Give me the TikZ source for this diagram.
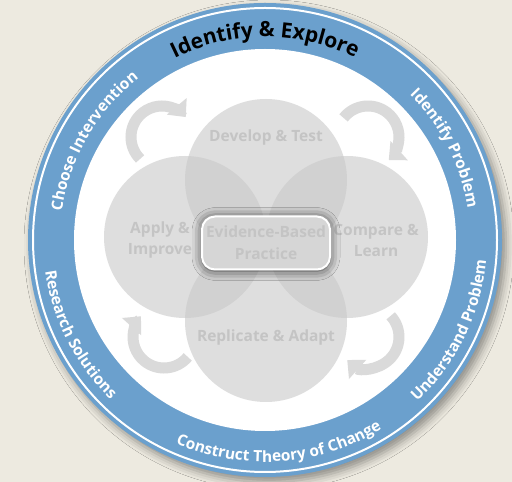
\documentclass[tikz,border=0pt]{standalone}
\usepackage{fontspec}
\setmainfont{Open Sans}
\usepackage{tikz}
\usetikzlibrary{positioning, arrows.meta, calc, decorations.text, shadows.blur}

\definecolor{bgbeige}{HTML}{EDEAE0}
\definecolor{ringblue}{HTML}{6BA0CD}
\definecolor{petalfill}{HTML}{C9C9C9}
\definecolor{petalgray}{HTML}{C4C4C4}
\definecolor{arrowgray}{HTML}{DADADA}
\definecolor{coregray}{HTML}{D6D6D6}

\newcommand{\headfont}{\bfseries\fontsize{21pt}{23pt}\selectfont}
\newcommand{\labelfont}{\bfseries\fontsize{15.5pt}{17pt}\selectfont}

\begin{document}
\begin{tikzpicture}[x=1pt, y=1pt,
	ring/.style={circle, inner sep=0pt, minimum size=474pt, fill=ringblue,
		blur shadow={shadow xshift=4pt, shadow yshift=-5pt, shadow blur radius=8pt, shadow opacity=40}},
	hole/.style={circle, inner sep=0pt, minimum size=382pt, fill=white},
	petal/.style={circle, inner sep=0pt, minimum size=162pt, fill=petalfill, fill opacity=0.6},
	petaltext/.style={text=petalgray, font=\bfseries\fontsize{15.5pt}{21pt}\selectfont, align=center},
	core/.style={rectangle, rounded corners=13pt, minimum width=128pt, minimum height=53pt,
		fill=coregray, draw=white, line width=2pt, text=petalgray, align=center,
		font=\bfseries\fontsize{15.5pt}{22pt}\selectfont,
		blur shadow={shadow xshift=0pt, shadow yshift=-1pt, shadow blur radius=10pt, shadow opacity=75}},
	turnarrow/.style={draw=arrowgray, line width=11pt, -{Triangle[width=25pt, length=14pt]}},
	ringlabel/.style={decorate, decoration={text along path, text align=center, text color=white}}]
	
	%Background
	\fill[bgbeige] (0,0) rectangle (512,482);
	\useasboundingbox (0,0) rectangle (512,482);
	
	%Outer ring
	\node[ring] (ring) at (265,242) {};
	\draw[white, line width=2pt] (ring.center) circle[radius=232pt];
	\node[hole] (hole) at (ring.center) {};
	
	%Cycle arrows
	\coordinate (tl) at (162,345);
	\coordinate (tr) at (368,345);
	\coordinate (br) at (368,145);
	\coordinate (bl) at (164,145);
	\draw[turnarrow] ([shift={(225:31pt)}]tl) arc[start angle=225, end angle=40, radius=31pt];
	\draw[turnarrow] ([shift={(142:31pt)}]tr) arc[start angle=142, end angle=-48, radius=31pt];
	\draw[turnarrow] ([shift={(43:31pt)}]br) arc[start angle=43, end angle=-132, radius=31pt];
	\draw[turnarrow] ([shift={(-40:31pt)}]bl) arc[start angle=-40, end angle=-222, radius=31pt];
	
	%Petals
	\coordinate (hub) at (266,245);
	\node[petal] (develop) at ([yshift=57pt]hub) {};
	\node[petal] (apply) at ([xshift=-81pt]hub) {};
	\node[petal] (compare) at ([xshift=81pt]hub) {};
	\node[petal] (replicate) at ([yshift=-84pt]hub) {};
	
	\node[petaltext] (developtxt) at ([yshift=43pt]develop.center) {Develop \& Test};
	\node[petaltext] (applytxt) at ([shift={(-25pt,-3pt)}]apply.center) {Apply \&\\Improve};
	\node[petaltext] (comparetxt) at ([shift={(29pt,-3pt)}]compare.center) {Compare \&\\Learn};
	\node[petaltext] (replicatetxt) at ([yshift=-16pt]replicate.center) {Replicate \& Adapt};
	
	%Centre
	\node[core] (ebp) at ([yshift=-6pt]hub) {Evidence-Based\\Practice};
	
	%Ring labels
	\path[decorate, decoration={text along path, text align=center, text={|\headfont|Identify {\&} Explore}}]
	($(ring.center)+(145:203pt)$) arc[start angle=145, end angle=35, radius=203pt];
	\path[ringlabel, decoration={text={|\labelfont|Choose Intervention}}]
	($(ring.center)+(195:205pt)$) arc[start angle=195, end angle=105, radius=205pt];
	\path[ringlabel, decoration={text={|\labelfont|Identify Problem}}]
	($(ring.center)+(72:205pt)$) arc[start angle=72, end angle=-18, radius=205pt];
	\path[ringlabel, decoration={text={|\labelfont|Understand Problem}}]
	($(ring.center)+(-71:222pt)$) arc[start angle=-71, end angle=19, radius=222pt];
	\path[ringlabel, decoration={text={|\labelfont|Construct Theory of Change}}]
	($(ring.center)+(214:222pt)$) arc[start angle=214, end angle=334, radius=222pt];
	\path[ringlabel, decoration={text={|\labelfont|Research Solutions}}]
	($(ring.center)+(162:222pt)$) arc[start angle=162, end angle=252, radius=222pt];
	
\end{tikzpicture}
\end{document}
